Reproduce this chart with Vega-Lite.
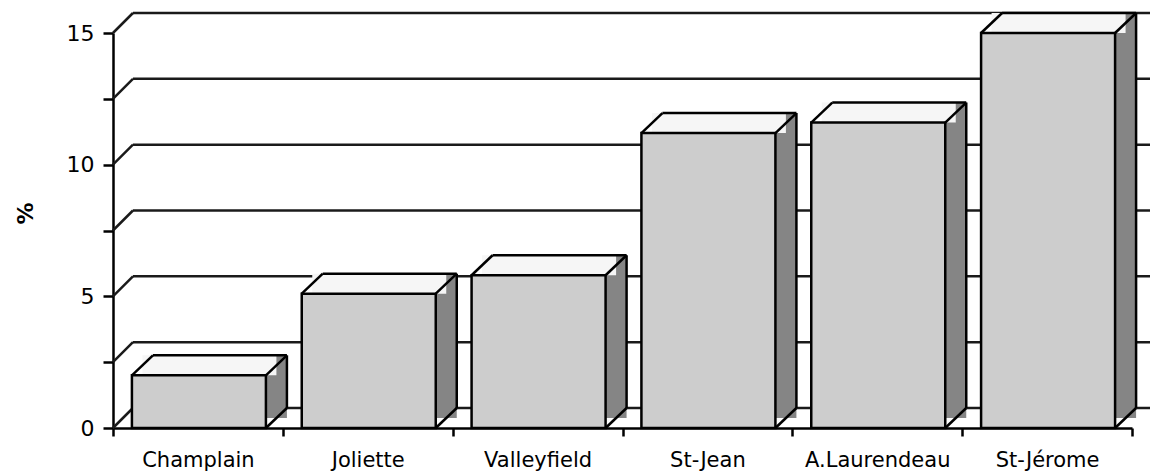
{
  "$schema": "https://vega.github.io/schema/vega-lite/v6.json",
  "width": 1019,
  "height": 395,
  "autosize": {"type": "none"},
  "padding": {"left": 113, "top": 33, "right": 18, "bottom": 46},
  "background": "white",
  "config": {
    "view": {"stroke": null},
    "axis": {"grid": false, "labelFont": "DejaVu Sans", "titleFont": "DejaVu Sans", "labelColor": "#000", "titleColor": "#000", "domainColor": "#000", "tickColor": "#000"}
  },
  "datasets": {
    "bars": [
      {"college": "Champlain", "value": 2.0},
      {"college": "Joliette", "value": 5.1},
      {"college": "Valleyfield", "value": 5.8},
      {"college": "St-Jean", "value": 11.2},
      {"college": "A.Laurendeau", "value": 11.6},
      {"college": "St-Jérome", "value": 15.0}
    ],
    "ticks": [{"t": 0}, {"t": 2.5}, {"t": 5}, {"t": 7.5}, {"t": 10}, {"t": 12.5}, {"t": 15}]
  },
  "layer": [
    {
      "data": {"name": "ticks"},
      "mark": {"type": "rule", "color": "#1a1a1a", "strokeWidth": 2.5, "xOffset": -65, "x2Offset": 110, "yOffset": -20, "y2Offset": -20},
      "encoding": {
        "x": {"datum": "Champlain", "type": "nominal", "title": null},
        "x2": {"datum": "St-Jérome"},
        "y": {"field": "t", "type": "quantitative", "title": "%"},
        "y2": {"field": "t"}
      }
    },
    {
      "data": {"name": "ticks"},
      "mark": {"type": "rule", "color": "#1a1a1a", "strokeWidth": 2.5, "xOffset": -85, "x2Offset": -65, "yOffset": 0, "y2Offset": -20},
      "encoding": {
        "x": {"datum": "Champlain", "type": "nominal", "title": null},
        "x2": {"datum": "Champlain"},
        "y": {"field": "t", "type": "quantitative", "title": "%"},
        "y2": {"field": "t"}
      }
    },
    {
      "data": {"name": "bars"},
      "mark": {"type": "bar", "width": 134, "xOffset": 22, "yOffset": -20, "y2Offset": -10, "fill": "#858585"},
      "encoding": {
        "x": {"field": "college", "type": "nominal", "title": null},
        "y": {"field": "value", "type": "quantitative", "title": "%"},
        "y2": {"datum": 0}
      }
    },
    {
      "data": {"name": "bars"},
      "mark": {"type": "bar", "width": 134, "xOffset": 11.5, "yOffset": -20, "y2Offset": 0, "fill": "#f6f6f6"},
      "encoding": {
        "x": {"field": "college", "type": "nominal", "title": null},
        "y": {"field": "value", "type": "quantitative", "title": "%"},
        "y2": {"field": "value"}
      }
    },
    {
      "data": {"name": "bars"},
      "mark": {"type": "bar", "width": 134, "xOffset": 1, "fill": "#cdcdcd", "stroke": "#000", "strokeWidth": 2.5},
      "encoding": {
        "x": {
          "field": "college", "type": "nominal", "sort": null,
          "scale": {"domain": ["Champlain", "Joliette", "Valleyfield", "St-Jean", "A.Laurendeau", "St-Jérome"], "paddingInner": 0, "paddingOuter": 0},
          "axis": {"title": null, "labelAngle": 0, "labelAlign": "center", "labelBaseline": "top", "labelFontSize": 21, "labelPadding": 13, "tickSize": 8, "tickWidth": 2.5, "domainWidth": 2.5, "tickBand": "extent"}
        },
        "y": {
          "field": "value", "type": "quantitative",
          "scale": {"domain": [0, 15], "nice": false},
          "axis": {"title": "%", "values": [0, 2.5, 5, 7.5, 10, 12.5, 15], "labelExpr": "datum.value % 5 == 0 ? datum.label : ''", "labelFontSize": 22, "labelPadding": 9, "tickSize": 10, "tickWidth": 2.5, "domainWidth": 2.5, "titleFontSize": 22, "titleX": -88, "titleY": 180, "titleAngle": -90, "titleAlign": "center", "titleBaseline": "middle"}
        },
        "y2": {"datum": 0}
      }
    },
    {
      "data": {"name": "bars"},
      "mark": {"type": "rule", "color": "#000", "strokeWidth": 2.5, "xOffset": -66, "x2Offset": -45, "yOffset": 0, "y2Offset": -20},
      "encoding": {
        "x": {"field": "college", "type": "nominal", "title": null},
        "x2": {"field": "college"},
        "y": {"field": "value", "type": "quantitative", "title": "%"},
        "y2": {"field": "value"}
      }
    },
    {
      "data": {"name": "bars"},
      "mark": {"type": "rule", "color": "#000", "strokeWidth": 2.5, "xOffset": 68, "x2Offset": 89, "yOffset": 0, "y2Offset": -20},
      "encoding": {
        "x": {"field": "college", "type": "nominal", "title": null},
        "x2": {"field": "college"},
        "y": {"field": "value", "type": "quantitative", "title": "%"},
        "y2": {"field": "value"}
      }
    },
    {
      "data": {"name": "bars"},
      "mark": {"type": "rule", "color": "#000", "strokeWidth": 2.5, "xOffset": 68, "x2Offset": 89, "yOffset": 0, "y2Offset": -20},
      "encoding": {
        "x": {"field": "college", "type": "nominal", "title": null},
        "x2": {"field": "college"},
        "y": {"datum": 0, "type": "quantitative", "title": "%"},
        "y2": {"datum": 0}
      }
    },
    {
      "data": {"name": "bars"},
      "mark": {"type": "rule", "color": "#000", "strokeWidth": 2.5, "xOffset": -45, "x2Offset": 89, "yOffset": -20, "y2Offset": -20},
      "encoding": {
        "x": {"field": "college", "type": "nominal", "title": null},
        "x2": {"field": "college"},
        "y": {"field": "value", "type": "quantitative", "title": "%"},
        "y2": {"field": "value"}
      }
    },
    {
      "data": {"name": "bars"},
      "mark": {"type": "rule", "color": "#000", "strokeWidth": 2.5, "xOffset": 89, "x2Offset": 89, "yOffset": -20, "y2Offset": -20},
      "encoding": {
        "x": {"field": "college", "type": "nominal", "title": null},
        "x2": {"field": "college"},
        "y": {"field": "value", "type": "quantitative", "title": "%"},
        "y2": {"datum": 0}
      }
    }
  ]
}
